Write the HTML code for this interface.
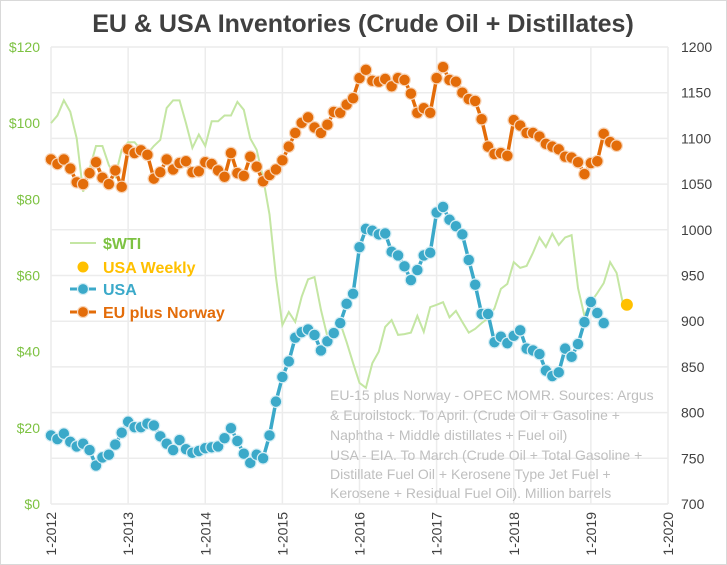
<!DOCTYPE html>
<html><head><meta charset="utf-8"><style>
body{margin:0;background:#fff;}
svg{display:block;font-family:"Liberation Sans",sans-serif;}
</style></head><body>
<svg id="chart" width="727" height="565" viewBox="0 0 727 565">
<rect x="0.5" y="0.5" width="726" height="564" fill="#fff" stroke="#d9d9d9"/>
<text x="363" y="32" text-anchor="middle" font-size="25" font-weight="bold" fill="#404040">EU &amp; USA Inventories (Crude Oil + Distillates)</text>
<g id="grid"></g>
<g id="axes"></g>
<g id="series"></g>
<g font-size="14" fill="#bfbfbf">
<text x="330" y="400">EU-15 plus Norway - OPEC MOMR. Sources: Argus</text>
<text x="330" y="420">&amp; Euroilstock. To April. (Crude Oil + Gasoline +</text>
<text x="330" y="440">Naphtha + Middle distillates + Fuel oil)</text>
<text x="330" y="460">USA - EIA. To March (Crude Oil + Total Gasoline +</text>
<text x="330" y="479">Distillate Fuel Oil + Kerosene Type Jet Fuel +</text>
<text x="330" y="498">Kerosene + Residual Fuel Oil). Million barrels</text>
</g>
<g font-size="16" font-weight="bold">
<g><line x1="70" y1="243" x2="96" y2="243" stroke="#c4e6a3" stroke-width="2"/><text x="103" y="249" fill="#7dc242">$WTI</text></g>
<g><circle cx="83" cy="267" r="5.5" fill="#ffc000"/><text x="103" y="273" fill="#ffc000">USA Weekly</text></g>
<g><line x1="70" y1="289" x2="96" y2="289" stroke="#3ba9c9" stroke-width="3"/><circle cx="83" cy="289" r="5.5" fill="#3ba9c9" stroke="#d6eef5" stroke-width="1.2"/><text x="103" y="295" fill="#3ba9c9">USA</text></g>
<g><line x1="70" y1="312" x2="96" y2="312" stroke="#e36c09" stroke-width="3"/><circle cx="83" cy="312" r="5.5" fill="#e36c09" stroke="#f8d5b8" stroke-width="1.2"/><text x="103" y="318" fill="#e36c09">EU plus Norway</text></g>
</g>
</svg>
<script>
const xTickLabels=["1-2012","1-2013","1-2014","1-2015","1-2016","1-2017","1-2018","1-2019","1-2020"];
const leftTickLabels=["$0","$20","$40","$60","$80","$100","$120"];
const leftTickValues=[0,20,40,60,80,100,120];
const rightTickValues=[700,750,800,850,900,950,1000,1050,1100,1150,1200];
const wti=[100,102,106,103,96,82,88,94,94,89,86,93,
95,95,93,92,94,95.6,104,106,106,100,93.5,97,
94,100.5,100.5,102,102,105.6,103.5,96,93,85.6,76,59.6,
47,50.4,47.8,54.4,59,59.6,51,44,45.2,47.5,42.5,37,
31.8,30.5,37,40,46.5,48.3,44.4,44.6,45,49.4,45.2,51.7,
52.3,53,49,50.7,47.8,45,46,47.5,48.8,51.4,56.5,57.8,
63.5,62,62.5,66,70,67.5,71,68,70,70.6,56.7,49.4,
53,55.4,58,63.5,60.7,52.5];
const usa=[775,771,777,768,763,766,759,742,751,754,765,778,
790,784,784,788,786,774,766,759,770,760,756,758,
761,762,763,772,783,769,755,745,754,750,775,812,
839,856,882,888,891,885,868,878,887,898,919,930,
981,1001,999,995,996,976,972,960,945,956,972,975,
1019,1025,1011,1004,995,967,940,908,908,877,883,876,
884,890,870,868,864,846,840,844,870,861,875,899,
921,909,898];
const eu=[1077,1072,1077,1067,1052,1050,1062,1074,1057,1050,1065,1047,
1088,1084,1087,1082,1056,1063,1077,1066,1073,1075,1063,1064,
1074,1072,1065,1058,1084,1062,1059,1080,1069,1053,1060,1066,
1076,1091,1106,1117,1123,1112,1106,1115,1129,1128,1137,1144,
1166,1175,1163,1162,1165,1157,1166,1164,1149,1128,1133,1128,
1166,1178,1164,1162,1150,1143,1141,1121,1091,1083,1084,1081,
1120,1114,1106,1106,1102,1094,1091,1088,1080,1079,1074,1061,
1073,1075,1105,1096,1092];
const usaWeeklyMonth=89.6;
const usaWeeklyValue=918;

const NS="http://www.w3.org/2000/svg";
const X0=51,X1=668,Y0=504,Y1=47;
const xm=m=>X0+(X1-X0)*m/96;
const yL=v=>Y0-(Y0-Y1)*v/120;
const yR=v=>Y0-(Y0-Y1)*(v-700)/500;
function mk(tag,attrs,parent){const e=document.createElementNS(NS,tag);for(const k in attrs)e.setAttribute(k,attrs[k]);parent.appendChild(e);return e;}
const grid=document.getElementById('grid'),axes=document.getElementById('axes'),series=document.getElementById('series');
rightTickValues.forEach((v,i)=>{
 const l=mk('line',{x1:X0,x2:X1,y1:yR(v),y2:yR(v),stroke:'#ececec','stroke-width':1.5},grid);
 
 
 const t=mk('text',{x:681,y:yR(v)+5,'font-size':14,fill:'#404040'},axes);
 t.textContent=v;
 
 
});
xTickLabels.forEach((s,i)=>{
 const x=xm(i*12);
 const l=mk('line',{x1:x,x2:x,y1:Y1,y2:Y0,stroke:'#ececec','stroke-width':1.5},grid);
 
 
 const t=mk('text',{x:0,y:0,'font-size':14,fill:'#404040','text-anchor':'end',transform:`translate(${x+5},512) rotate(-90)`},axes);
 t.textContent=s;
 
 
});
leftTickValues.forEach((v,i)=>{
 const t=mk('text',{x:40,y:yL(v)+5,'font-size':14,fill:'#7dc242','text-anchor':'end'},axes);
 t.textContent=leftTickLabels[i];
 
 
});
const wl=mk('polyline',{points:wti.map((v,i)=>xm(i)+','+yL(v)).join(' '),fill:'none',stroke:'#c4e6a3','stroke-width':2},series);


function dotSeries(arr,name,col,edge){
 const g=mk('g',{},series);
 
 
 mk('polyline',{points:arr.map((v,i)=>xm(i)+','+yR(v)).join(' '),fill:'none',stroke:col,'stroke-width':3.5},g);
 arr.forEach((v,i)=>{
  const c=mk('circle',{cx:xm(i),cy:yR(v),r:5.8,fill:col,stroke:edge,'stroke-width':1.2},g);
  
  
 });
}
dotSeries(eu,'eu','#e36c09','#f8d5b8');
dotSeries(usa,'usa','#3ba9c9','#d6eef5');
const wk=mk('circle',{cx:xm(usaWeeklyMonth),cy:yR(usaWeeklyValue),r:6,fill:'#ffc000'},series);


</script>
</body></html>
